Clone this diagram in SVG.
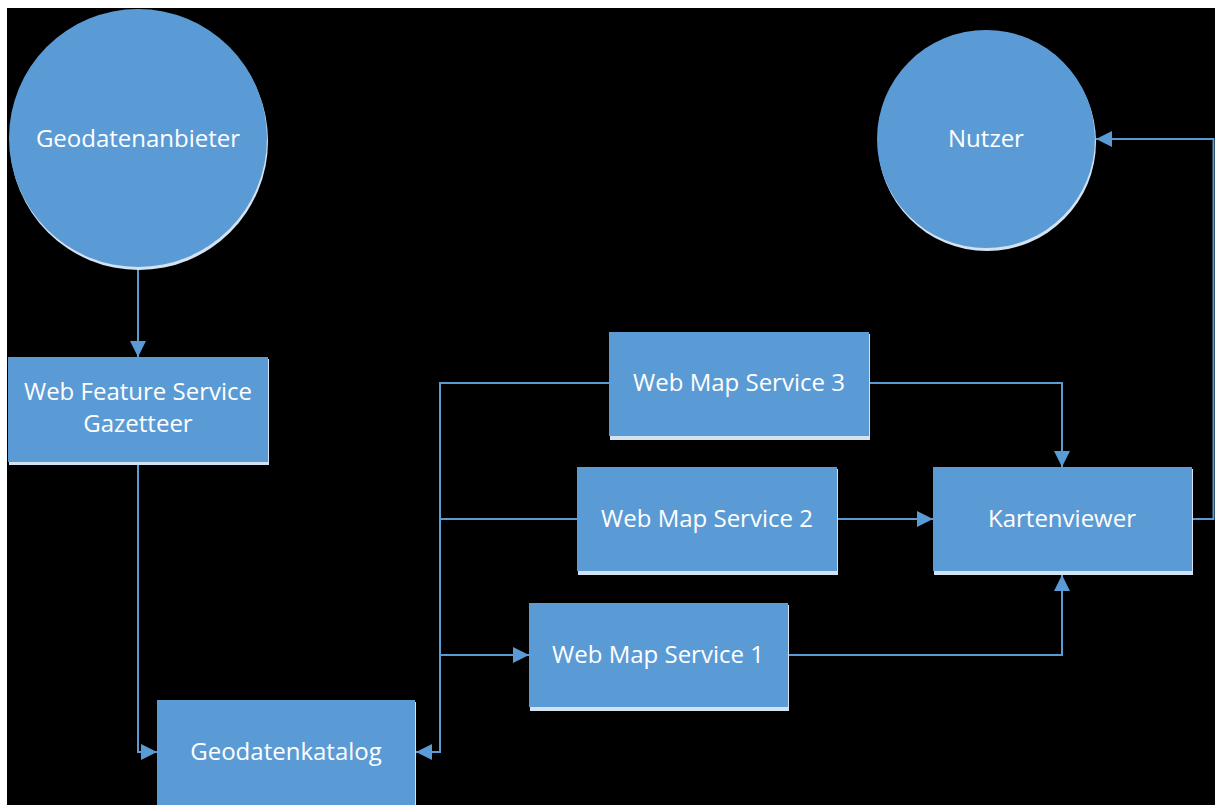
<svg xmlns="http://www.w3.org/2000/svg" width="1215" height="805" viewBox="0 0 1215 805">
<defs>
<style>
.node{fill:#5B9BD5;}
.sh{fill:#D3E2F1;}
.lbl{fill:#FFFFFF;font-family:"Open Sans","Liberation Sans",sans-serif;font-size:24px;text-anchor:middle;dominant-baseline:central;}
.con{fill:none;stroke:#5B9BD5;stroke-width:2;}
</style>
<marker id="arr" viewBox="0 0 10 10" refX="10" refY="5" markerWidth="8" markerHeight="8" markerUnits="strokeWidth" orient="auto">
<path d="M0,0 L10,5 L0,10 Z" fill="#5B9BD5"/>
</marker>
</defs>
<rect x="0" y="0" width="1215" height="805" fill="#000000"/>
<rect x="0" y="0" width="1215" height="8" fill="#FFFFFF"/>
<rect x="0" y="0" width="7" height="805" fill="#FFFFFF"/>

<g id="connectors">
<path class="con" d="M138,269 L138,357" marker-end="url(#arr)"/>
<path class="con" d="M138,465 L138,752 L157,752" marker-end="url(#arr)"/>
<path class="con" d="M609,383 L440,383 L440,752 L416,752" marker-end="url(#arr)"/>
<path class="con" d="M577,519 L440,519"/>
<path class="con" d="M440,655 L529,655" marker-end="url(#arr)"/>
<path class="con" d="M869,383 L1062,383 L1062,467" marker-end="url(#arr)"/>
<path class="con" d="M837,519 L933,519" marker-end="url(#arr)"/>
<path class="con" d="M788,655 L1062,655 L1062,575" marker-end="url(#arr)"/>
<path class="con" d="M1192,519 L1213.5,519 L1213.5,139 L1096,139" marker-end="url(#arr)"/>
</g>

<g id="geodatenanbieter">
<circle class="sh" cx="139" cy="141" r="129"/>
<circle class="node" cx="138" cy="138" r="129"/>
<text class="lbl" x="138" y="137">Geodatenanbieter</text>
</g>

<g id="nutzer">
<circle class="sh" cx="987" cy="142" r="109"/>
<circle class="node" cx="986" cy="139" r="109"/>
<text class="lbl" x="986" y="137">Nutzer</text>
</g>

<g id="wfs">
<rect class="sh" x="9" y="359" width="260" height="106"/>
<rect class="node" x="8" y="357" width="260" height="105"/>
<text class="lbl" x="138" y="390">Web Feature Service</text>
<text class="lbl" x="138" y="422">Gazetteer</text>
</g>

<g id="wms3">
<rect class="sh" x="610" y="334" width="260" height="106"/>
<rect class="node" x="609" y="332" width="260" height="104"/>
<text class="lbl" x="739" y="381">Web Map Service 3</text>
</g>

<g id="wms2">
<rect class="sh" x="578" y="469" width="260" height="106"/>
<rect class="node" x="577" y="467" width="260" height="104"/>
<text class="lbl" x="707" y="517">Web Map Service 2</text>
</g>

<g id="wms1">
<rect class="sh" x="530" y="605" width="259" height="106"/>
<rect class="node" x="529" y="603" width="259" height="104"/>
<text class="lbl" x="658" y="653">Web Map Service 1</text>
</g>

<g id="kartenviewer">
<rect class="sh" x="934" y="469" width="259" height="106"/>
<rect class="node" x="933" y="467" width="259" height="104"/>
<text class="lbl" x="1062" y="517">Kartenviewer</text>
</g>

<g id="geodatenkatalog">
<rect class="sh" x="158" y="702" width="258" height="106"/>
<rect class="node" x="157" y="700" width="258" height="105"/>
<text class="lbl" x="286" y="750">Geodatenkatalog</text>
</g>
</svg>
